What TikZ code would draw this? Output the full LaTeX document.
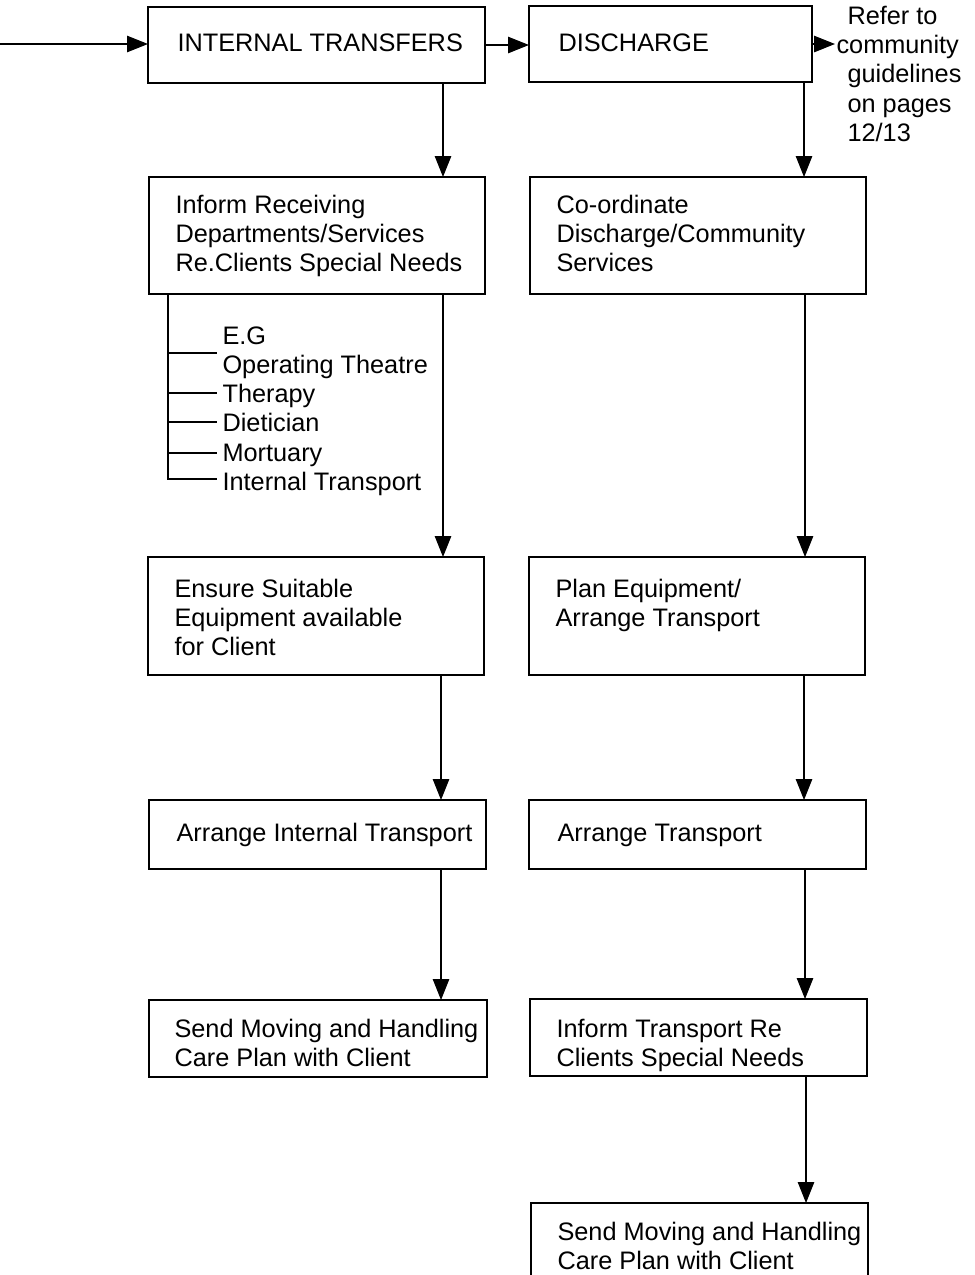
\documentclass[tikz,border=0pt]{standalone}
\usepackage{fontspec}
\setmainfont{Liberation Sans}
\usetikzlibrary{arrows.meta}
\begin{document}
\begin{tikzpicture}[x=1pt,y=-1pt,line width=1.1pt,
  box/.style={draw,inner sep=0pt,outer sep=0pt,anchor=north west},
  txt/.style={inner sep=0pt,anchor=base west,align=left,
    font=\fontsize{25.3}{29.3}\selectfont},
  arr/.style={-{Triangle[length=21pt,width=16.5pt]}}]
\useasboundingbox (0,0) rectangle (975,1275);

% boxes
\node[box,minimum width=337pt,minimum height=76pt]  (it)  at (148,7)   {};
\node[box,minimum width=283pt,minimum height=76pt]  (dis) at (529,6)   {};
\node[box,minimum width=336pt,minimum height=117pt] (inf) at (149,177) {};
\node[box,minimum width=336pt,minimum height=117pt] (coo) at (530,177) {};
\node[box,minimum width=336pt,minimum height=118pt] (ens) at (148,557) {};
\node[box,minimum width=336pt,minimum height=118pt] (pla) at (529,557) {};
\node[box,minimum width=337pt,minimum height=69pt]  (ari) at (149,800) {};
\node[box,minimum width=337pt,minimum height=69pt]  (art) at (529,800) {};
\node[box,minimum width=338pt,minimum height=77pt]  (sdl) at (149,1000) {};
\node[box,minimum width=337pt,minimum height=77pt]  (itr) at (530,999) {};
\node[box,minimum width=337pt,minimum height=95pt]  (sdr) at (531,1203) {};

% texts (each placed by the baseline of its last line)
\node[txt] (it-t)  at (177,51.5)  {INTERNAL TRANSFERS};
\node[txt] (dis-t) at (558,51.5)  {DISCHARGE};
\node[txt] (ref-t) at (847,141.5) {Refer to\\\hspace*{-11pt}community\\guidelines\\on pages\\12/13};
\node[txt] (inf-t) at (175,271.6) {Inform Receiving\\Departments/Services\\Re.Clients Special Needs};
\node[txt] (coo-t) at (556,271.6) {Co-ordinate\\Discharge/Community\\Services};
\node[txt] (lst-t) at (222,490.5) {E.G\\Operating Theatre\\Therapy\\Dietician\\Mortuary\\Internal Transport};
\node[txt] (ens-t) at (174,655.6) {Ensure Suitable\\Equipment available\\for Client};
\node[txt] (pla-t) at (555,626.3) {Plan Equipment/\\Arrange Transport};
\node[txt] (ari-t) at (176,841)   {Arrange Internal Transport};
\node[txt] (art-t) at (557,841)   {Arrange Transport};
\node[txt] (sdl-t) at (174,1066.3) {Send Moving and Handling\\Care Plan with Client};
\node[txt] (itr-t) at (556,1066.3) {Inform Transport Re\\Clients Special Needs};
\node[txt] (sdr-t) at (557,1269.3) {Send Moving and Handling\\Care Plan with Client};

% helper coordinates
\coordinate (in)  at (0,44);
\coordinate (ref) at (835,44);
\coordinate (cL)  at (443,0);
\coordinate (cL2) at (441,0);
\coordinate (cR)  at (804,0);
\coordinate (cR2) at (805,0);
\coordinate (cR3) at (806,0);
\coordinate (bx)  at (168,0);
\coordinate (t1)  at (217,353);
\coordinate (t2)  at (217,393);
\coordinate (t3)  at (217,422);
\coordinate (t4)  at (217,453);
\coordinate (t5)  at (217,479);

% connectors
\draw[arr] (in) -- (in -| it.west);
\draw[arr] (it.east) -- (it.east -| dis.west);
\draw[arr] (dis.east) -- (ref);
\draw[arr] (it.south -| cL) -- (inf.north -| cL);
\draw[arr] (inf.south -| cL) -- (ens.north -| cL);
\draw[arr] (ens.south -| cL2) -- (ari.north -| cL2);
\draw[arr] (ari.south -| cL2) -- (sdl.north -| cL2);
\draw[arr] (dis.south -| cR) -- (coo.north -| cR);
\draw[arr] (coo.south -| cR2) -- (pla.north -| cR2);
\draw[arr] (pla.south -| cR) -- (art.north -| cR);
\draw[arr] (art.south -| cR2) -- (itr.north -| cR2);
\draw[arr] (itr.south -| cR3) -- (sdr.north -| cR3);

% bracket listing the receiving departments
\draw (inf.south -| bx) -- (bx |- t5) -- (t5);
\foreach \t in {t1,t2,t3,t4} \draw (bx |- \t) -- (\t);
\end{tikzpicture}
\end{document}
